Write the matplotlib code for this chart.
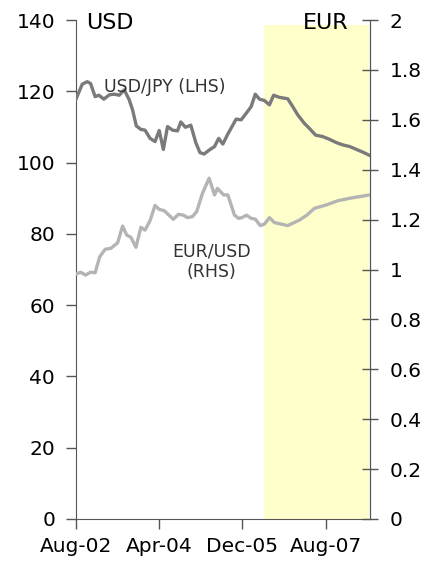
import matplotlib
matplotlib.use("Agg")
from matplotlib import pyplot as plt

# months counted from Aug-02
jpy_month = [0, 1.5, 2.7, 3.5, 4.6, 5.5, 6.7, 8, 9.2, 10.4, 11.6, 12.8, 13.6, 14.5,
             15.6, 16.6, 17.8, 19, 20, 21, 22, 23.2, 24.4, 25.2, 26.3, 27.6, 28.8,
             29.8, 30.8, 32, 33.3, 34.3, 35.3, 36.5, 38.5, 39.7, 40.9, 42.1, 43.1,
             44.1, 45.3, 46.5, 47.5, 48.9, 50.9, 52.1, 53.3, 54.9, 56.1, 57.6, 59.3,
             61, 62.6, 64, 65.8, 67.4, 69, 70.8]
usd_jpy = [117.8, 122, 122.7, 122.2, 118.5, 118.9, 117.8, 119, 119.2, 118.9, 120.4,
           117.6, 114.8, 110.3, 109.3, 109.1, 106.8, 105.9, 109, 103.7, 110.1, 109.1,
           108.9, 111.4, 109.9, 110.5, 105.6, 102.8, 102.4, 103.5, 104.5, 106.8,
           105.2, 108, 112.2, 112, 113.8, 115.7, 119.2, 117.8, 117.4, 116.2, 118.9,
           118.3, 117.9, 115.7, 113.4, 111, 109.6, 107.7, 107.3, 106.5, 105.6, 105,
           104.5, 103.7, 102.9, 101.9]

eur_month = [0, 1.1, 2.3, 3.5, 4.6, 5.7, 7, 8.4, 10, 11.2, 12.2, 13.2, 14.4, 15.6,
             16.6, 17.8, 19, 20, 21.2, 23.4, 24.6, 25.8, 26.8, 28, 29, 30.4, 32,
             33.3, 34, 35.5, 36.5, 38.1, 39.1, 39.9, 41, 42.1, 43.1, 44.3, 45.3,
             46.5, 47.7, 50.9, 53.7, 55.5, 57.3, 60.2, 63, 66.6, 70.6]
eur_usd = [0.982, 0.989, 0.978, 0.989, 0.987, 1.051, 1.081, 1.085, 1.107, 1.174,
           1.138, 1.129, 1.089, 1.169, 1.158, 1.196, 1.257, 1.241, 1.236, 1.201,
           1.221, 1.218, 1.208, 1.212, 1.232, 1.305, 1.366, 1.299, 1.325, 1.299,
           1.299, 1.218, 1.205, 1.208, 1.218, 1.205, 1.202, 1.176, 1.182, 1.208,
           1.188, 1.176, 1.198, 1.218, 1.245, 1.259, 1.276, 1.288, 1.299]

x_ticks = [0, 20, 40, 60]
x_labels = ["Aug-02", "Apr-04", "Dec-05", "Aug-07"]
shade_from, shade_to, shade_top = 45.3, 70.4, 138.5

plt.rcParams['font.family'] = ['DejaVu Sans']
fs = 14.5

fig = plt.figure(figsize=(4.38, 5.64), dpi=100)
ax = fig.add_axes([0.1735, 0.0798, 0.6715, 0.8847])
ax2 = ax.twinx()

# forecast shading
ax.fill_between([shade_from, shade_to], 0, shade_top, color='#ffffcc', lw=0, zorder=0)

ax.plot(jpy_month, usd_jpy, color='#7a7a7a', lw=2.4, zorder=3)
ax2.plot(eur_month, eur_usd, color='#b4b4b4', lw=2.4, zorder=3)

ax.set_xlim(0, 70.7)
ax.set_ylim(0, 140)
ax2.set_ylim(0, 2)
ax.set_yticks(range(0, 141, 20))
ax2.set_yticks([0, 0.2, 0.4, 0.6, 0.8, 1, 1.2, 1.4, 1.6, 1.8, 2])
ax2.set_yticklabels(['0', '0.2', '0.4', '0.6', '0.8', '1', '1.2', '1.4', '1.6', '1.8', '2'])
ax.set_xticks(x_ticks)
ax.set_xticklabels(x_labels)

for a in (ax, ax2):
    for s in a.spines.values():
        s.set_color('#555555')
    a.spines['top'].set_visible(False)
ax2.spines['left'].set_visible(False)
ax2.spines['bottom'].set_visible(False)

ax.tick_params(axis='y', direction='out', length=7, width=1, colors='#555555',
               labelcolor='black', labelsize=fs, pad=8)
ax.tick_params(axis='x', direction='out', length=7, width=1, colors='#555555',
               labelcolor='black', labelsize=fs, pad=6)
ax2.tick_params(axis='y', direction='inout', length=12, width=1, colors='#555555',
                labelcolor='black', labelsize=fs, pad=8)

ax.text(0.034, 0.994, "USD", transform=ax.transAxes, fontsize=fs + 1.5,
        ha='left', va='center')
ax.text(0.925, 0.994, "EUR", transform=ax.transAxes, fontsize=fs + 1.5,
        ha='right', va='center')
ax.text(21.4, 121.2, "USD/JPY (LHS)", fontsize=12.5, color='#333333',
        ha='center', va='center', zorder=5)
ax2.text(32.5, 1.032, "EUR/USD\n(RHS)", fontsize=12.5, color='#333333',
         ha='center', va='center', linespacing=1.2, zorder=5)

ax.set_zorder(ax2.get_zorder() - 1)
ax2.patch.set_visible(False)

fig.savefig("out.png", dpi=100)
